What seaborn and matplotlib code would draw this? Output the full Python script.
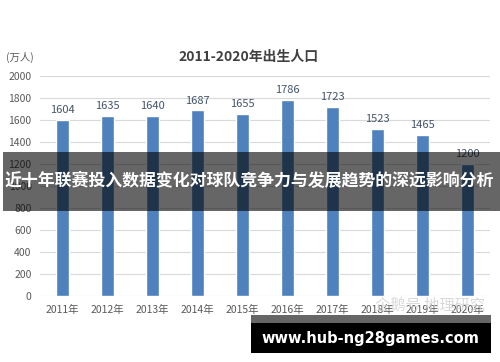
import pandas as pd
import seaborn as sns
import matplotlib.pyplot as plt
from matplotlib.patches import Rectangle

years = ['2011年', '2012年', '2013年', '2014年', '2015年',
         '2016年', '2017年', '2018年', '2019年', '2020年']
births = [1604, 1635, 1640, 1687, 1655, 1786, 1723, 1523, 1465, 1200]
yticks = [0, 200, 400, 600, 800, 1000, 1200, 1400, 1600, 1800, 2000]

sns.set_style('white')
plt.rcParams['font.family'] = ['Noto Sans CJK SC', 'DejaVu Sans']

df = pd.DataFrame({'年份': years, '出生人口': births})

fig = plt.figure(figsize=(5, 3.62), dpi=100)
ax = fig.add_axes([0.08, 0.182, 0.90, 0.608])
sns.barplot(data=df, x='年份', y='出生人口', color='#4f81bd', width=0.31,
            saturation=1, ax=ax, zorder=3)
ax.set_ylim(0, 2000)
ax.set_xlim(-0.5, 9.5)
ax.set_yticks(yticks)
ax.grid(axis='y', color='#d9d9d9', linewidth=0.8, zorder=0)
for s in ax.spines.values():
    s.set_visible(False)
ax.tick_params(axis='both', length=0, labelsize=7.5, colors='#595959', pad=6)
ax.set_xlabel('')
ax.set_ylabel('')
for i, v in enumerate(births):
    ax.text(i, v + 45, str(v), ha='center', va='bottom', fontsize=8, color='#44546a')

fig.text(0.498, 0.842, '2011-2020年出生人口', ha='center', va='center',
         fontsize=10, fontweight='bold', color='#404040')
fig.text(0.012, 0.84, '(万人)', ha='left', va='center', fontsize=7.5, color='#595959')
fig.text(0.86, 0.157, '企鹅号 地理研究', ha='center', va='center',
         fontsize=11, color='#d0d0d0', alpha=0.8)

# banner overlay
fig.patches.append(Rectangle((3 / 500, 151 / 362), 497 / 500, 59 / 362, linewidth=0,
                             transform=fig.transFigure, facecolor='black', alpha=0.6, zorder=10))
fig.text(0.498, 181 / 362, '近十年联赛投入数据变化对球队竞争力与发展趋势的深远影响分析',
         ha='center', va='center', fontsize=12.2, fontweight='bold', color='white', zorder=11)

# bottom box
fig.patches.append(Rectangle((251 / 500, 39 / 362), 240 / 500, 8 / 362, linewidth=0,
                             transform=fig.transFigure, facecolor='#666666', zorder=10))
fig.patches.append(Rectangle((251 / 500, 9 / 362), 240 / 500, 30 / 362, linewidth=0,
                             transform=fig.transFigure, facecolor='black', zorder=10))
fig.text(370 / 500, 24 / 362, 'www.hub-ng28games.com', ha='center', va='center',
         fontsize=10.5, fontweight='bold', color='white', family='DejaVu Sans', zorder=11)

fig.savefig('out.png', dpi=100)
